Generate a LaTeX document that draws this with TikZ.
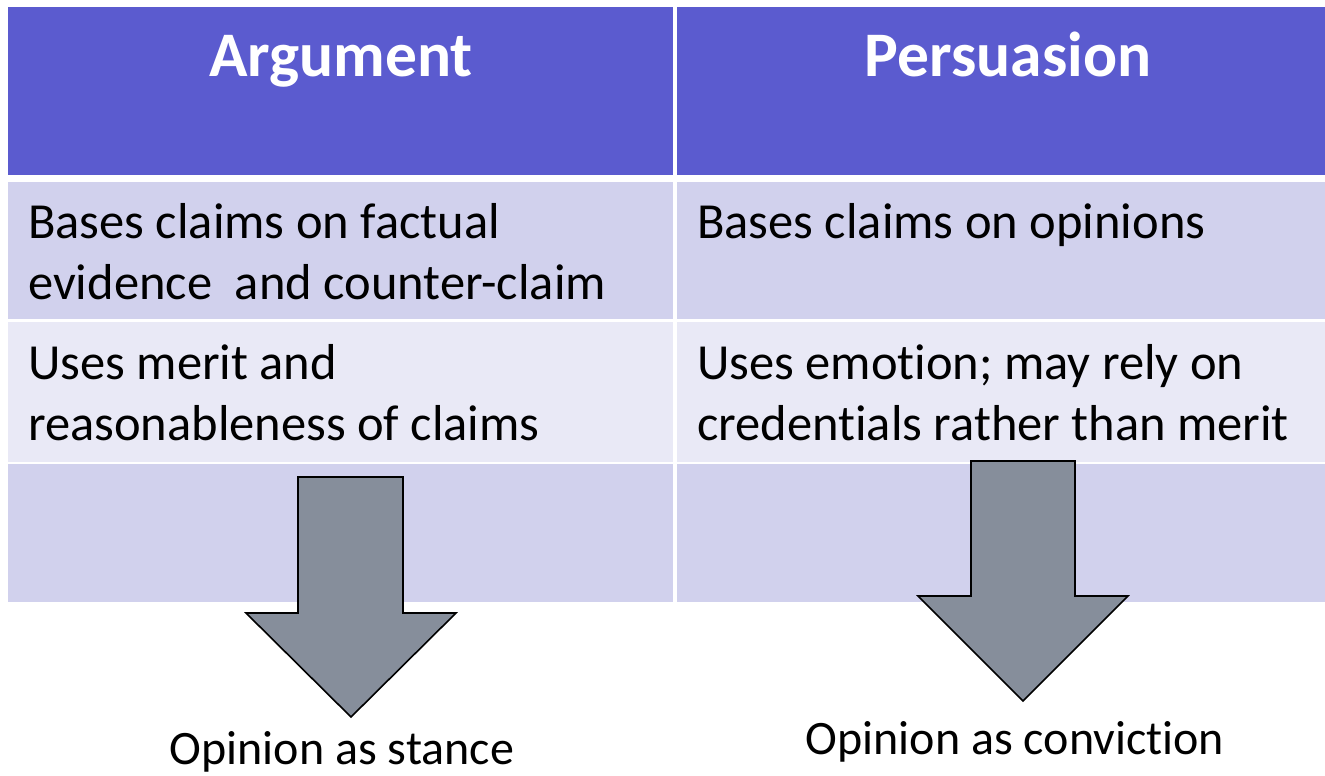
\documentclass[tikz,border=0pt]{standalone}
\usepackage{fontspec}
\setmainfont{Carlito}[Ligatures=NoCommon]
\definecolor{headblue}{RGB}{91,91,207}
\definecolor{rowdark}{RGB}{209,209,237}
\definecolor{rowlight}{RGB}{233,233,246}
\definecolor{arrowgray}{RGB}{134,142,155}
\begin{document}
\begin{tikzpicture}[x=1pt, y=-1pt,
            cell/.style={anchor=north west, inner sep=0pt, outer sep=0pt},
            head/.style={anchor=base, inner sep=0pt, text=white,
                    font=\fontsize{63.5}{76}\selectfont\bfseries},
            body/.style={anchor=base west, inner sep=0pt, align=left,
                    font=\fontsize{50.5}{61}\selectfont},
            result/.style={anchor=base, inner sep=0pt,
                    font=\fontsize{48}{58}\selectfont},
            blockarrow/.style={draw=black, fill=arrowgray, line width=1.6pt, line join=miter}
        ]
        \useasboundingbox (0,0) rectangle (1325,776);

        % table cells
        \node[cell, fill=headblue, minimum width=665pt, minimum height=168pt] (headA) at (8,7) {};
        \node[cell, fill=headblue, minimum width=648pt, minimum height=168pt] (headP) at (677,7) {};
        \node[cell, fill=rowdark, minimum width=665pt, minimum height=137pt] (rowA1) at (8,182) {};
        \node[cell, fill=rowdark, minimum width=648pt, minimum height=137pt] (rowP1) at (677,182) {};
        \node[cell, fill=rowlight, minimum width=665pt, minimum height=140pt] (rowA2) at (8,322) {};
        \node[cell, fill=rowlight, minimum width=648pt, minimum height=140pt] (rowP2) at (677,322) {};
        \node[cell, fill=rowdark, minimum width=665pt, minimum height=138pt] (rowA3) at (8,464) {};
        \node[cell, fill=rowdark, minimum width=648pt, minimum height=138pt] (rowP3) at (677,464) {};

        % texts (base = last line)
        \node[head] (argument) at (341,77) {Argument};
        \node[head] (persuasion) at (1008,77) {Persuasion};
        \node[body] (factual) at (28,299) {Bases claims on factual\\evidence\ \ and counter-claim};
        \node[body] (opinions) at (697,238) {Bases claims on opinions};
        \node[body] (merit) at (28,440) {Uses merit and\\reasonableness of claims};
        \node[body] (emotion) at (697,440) {Uses emotion; may rely on\\credentials rather than merit};

        % block arrows
        \draw[blockarrow] (298,477) -- (403,477) -- (403,613) -- (456,613) -- (351,717)
            -- (246,613) -- (298,613) -- cycle;
        \draw[blockarrow] (971,461) -- (1075,461) -- (1075,596) -- (1128,596) -- (1023,701)
            -- (918,596) -- (971,596) -- cycle;

        \node[result] (stance) at (342,764) {Opinion as stance};
        \node[result] (conviction) at (1015,754) {Opinion as conviction};
    \end{tikzpicture}
\end{document}
